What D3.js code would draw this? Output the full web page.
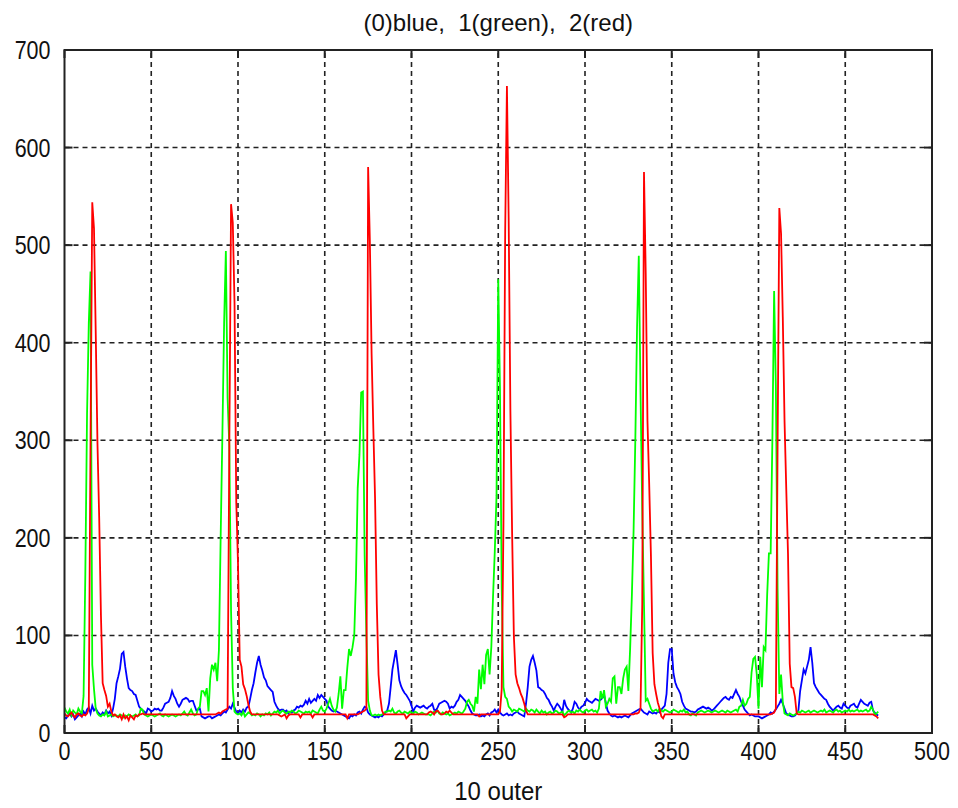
<!DOCTYPE html>
<html>
<head>
<meta charset="utf-8">
<script src="https://cdn.jsdelivr.net/npm/d3@7"></script>
<style>
  html, body { margin: 0; padding: 0; background: #fff; }
  #chart { width: 958px; height: 808px; }
</style>
</head>
<body>
<div id="chart"></div>
<script>
// series values, sample index 0..469
const blueVals = [
  16,15,18,20,17,19,14,16,18,20,
  17,22,19,24,26,20,28,23,25,22,
  20,18,21,19,23,20,22,18,25,35,
  51,58,66,81,83,68,56,46,44,43,
  40,39,33,27,25,23,22,20,25,24,
  22,23,25,24,25,23,23,26,30,31,
  32,36,43,38,35,30,27,30,34,35,
  36,35,32,33,33,28,23,24,25,17,
  16,15,16,17,17,15,16,17,18,19,
  18,20,22,21,24,27,25,30,26,22,
  20,23,21,24,22,26,27,35,44,51,
  62,72,79,70,64,57,54,48,46,44,
  42,32,28,25,23,24,24,22,23,20,
  22,21,23,24,27,26,28,27,29,33,
  30,35,31,33,35,33,39,36,39,37,
  35,33,27,25,23,22,23,22,21,20,
  19,18,17,16,15,18,17,19,18,21,
  22,20,24,27,26,21,19,18,17,16,
  17,16,18,17,19,21,23,30,47,65,
  75,85,70,54,48,44,41,39,36,33,
  28,22,26,28,27,26,27,28,26,25,
  27,28,30,24,23,26,30,31,32,33,
  32,30,25,27,26,28,32,34,39,37,
  35,33,30,27,23,20,19,18,18,19,
  17,18,17,19,20,18,21,22,24,21,
  24,21,19,18,19,20,18,19,18,20,
  21,22,20,19,18,17,30,47,68,75,
  79,72,64,47,46,44,43,40,36,34,
  30,27,23,27,30,28,25,22,34,28,
  25,23,21,25,32,30,26,24,27,28,
  31,35,33,32,31,33,35,34,33,34,
  36,39,31,23,20,18,17,18,17,16,
  17,16,17,18,17,16,18,20,21,22,
  23,24,25,23,21,20,19,22,21,20,
  21,20,22,21,24,26,28,40,72,86,
  86,61,52,47,44,40,32,28,25,24,
  23,22,22,21,22,24,25,26,27,26,
  25,26,25,23,24,26,28,30,32,34,
  36,37,35,34,37,36,40,44,40,37,
  32,28,24,22,20,18,19,18,17,17,
  17,16,15,16,17,18,19,21,20,22,
  24,27,30,34,30,25,20,19,18,17,
  17,18,20,23,43,54,65,61,68,75,
  88,72,51,47,44,41,39,37,35,34,
  30,27,25,23,25,27,28,26,25,30,
  28,26,25,28,29,30,27,26,30,34,
  32,30,29,28,31,32,23,21,19,18
];

const greenVals = [
  26,22,20,24,18,23,21,19,25,22,
  20,38,163,328,420,473,70,45,25,20,
  18,17,19,18,22,17,18,19,17,18,
  18,17,19,18,16,18,17,19,18,17,
  18,19,17,18,25,24,19,18,17,18,
  19,18,17,18,19,20,18,17,19,18,
  17,18,19,18,17,18,19,18,20,22,
  19,18,21,24,20,18,19,25,27,43,
  43,39,46,22,56,70,65,72,53,85,
  200,306,420,494,343,294,125,46,22,20,
  19,20,18,22,17,19,21,20,18,19,
  18,20,19,17,19,18,20,19,21,18,
  20,22,21,23,20,22,23,21,20,22,
  21,23,22,20,21,23,22,21,20,22,
  21,22,20,23,22,21,20,24,27,23,
  22,25,30,35,28,24,22,26,40,58,
  25,44,44,67,86,79,88,100,159,251,
  285,349,350,182,101,33,23,18,18,19,
  18,19,18,19,20,22,22,23,22,25,
  21,20,22,23,21,20,22,21,20,22,
  21,20,22,21,19,20,21,20,19,19,
  19,18,20,22,21,23,20,19,21,20,
  19,20,18,19,20,21,20,22,21,20,
  22,25,32,34,30,28,22,37,30,65,
  45,70,50,80,86,60,88,140,186,243,
  465,352,149,47,37,35,27,25,22,24,
  23,22,25,24,23,22,25,23,22,24,
  23,21,24,22,20,23,21,22,19,21,
  22,20,21,23,22,20,21,22,18,20,
  22,23,21,22,20,23,22,24,22,21,
  23,24,22,23,24,22,23,21,25,43,
  35,44,27,30,35,32,56,58,30,47,
  47,40,56,65,68,43,86,140,207,300,
  416,489,349,228,132,33,35,30,25,22,
  23,24,22,25,23,22,24,23,22,21,
  22,24,23,22,21,23,22,24,21,22,
  19,18,20,19,18,21,22,23,22,21,
  22,23,22,21,22,23,22,21,22,23,
  22,21,23,22,21,22,23,24,22,27,
  28,34,28,30,35,37,62,76,78,60,
  25,78,47,88,85,142,184,184,301,453,
  355,148,40,60,32,20,19,18,20,19,
  18,19,20,22,21,23,22,21,22,23,
  21,22,23,22,21,22,23,22,24,21,
  22,23,22,21,23,24,22,23,21,22,
  23,22,24,22,23,22,23,24,22,23,
  22,23,24,22,23,27,24,19,20,22
];

const redVals = [
  20,18,17,19,21,18,16,19,20,18,
  17,19,18,20,25,300,544,517,410,297,
  220,121,51,44,38,27,30,22,18,19,
  17,16,18,14,19,15,17,13,18,16,
  14,18,17,19,19,20,19,19,19,19,
  19,19,19,19,19,19,19,19,19,19,
  19,19,19,19,19,19,19,19,19,19,
  19,19,19,19,19,19,19,19,19,19,
  19,19,19,19,19,19,19,19,20,21,
  20,22,23,24,25,294,542,523,440,237,
  174,75,68,50,45,38,29,22,19,19,
  19,19,19,19,19,19,19,19,19,19,
  19,19,19,19,18,17,18,19,15,18,
  19,19,19,19,19,19,16,19,19,19,
  19,19,19,16,19,19,19,19,19,19,
  19,19,19,19,19,19,19,19,19,19,
  19,19,19,15,19,19,19,19,19,19,
  20,21,22,23,25,580,504,389,312,240,
  132,60,37,23,19,19,19,19,19,19,
  19,19,19,19,19,19,19,15,17,19,
  19,19,19,19,19,19,19,19,19,19,
  21,22,21,19,22,23,21,19,19,20,
  22,21,23,21,19,19,19,19,19,19,
  19,19,19,19,19,19,19,19,19,17,
  19,19,19,19,19,19,19,19,19,19,
  19,22,45,215,515,663,528,330,204,99,
  60,51,46,40,36,30,23,19,19,19,
  19,19,19,19,19,19,19,19,19,19,
  19,19,19,19,19,19,19,19,16,17,
  19,19,19,19,19,19,19,19,19,19,
  19,19,19,19,19,19,19,19,19,19,
  19,19,19,19,19,19,19,19,19,19,
  19,19,19,19,19,19,19,19,19,20,
  20,21,25,132,575,471,320,255,182,82,
  50,40,31,25,17,15,19,19,19,19,
  19,19,19,19,19,19,19,19,19,19,
  19,19,19,19,19,19,19,19,19,19,
  19,19,19,19,19,19,19,19,19,19,
  19,19,19,19,19,19,19,19,19,19,
  19,19,19,19,19,19,19,19,19,19,
  19,19,19,19,19,19,19,19,20,21,
  25,294,538,512,426,320,250,184,71,47,
  46,37,20,19,19,19,19,19,19,19,
  19,19,19,19,19,19,19,19,19,19,
  19,19,19,19,19,19,19,19,19,19,
  19,19,19,19,19,19,19,19,19,19,
  19,19,19,19,19,19,19,18,17,15
];

const seriesColors = ['#0000ff', '#00ff00', '#ff0000'];
const xTicks = [0, 50, 100, 150, 200, 250, 300, 350, 400, 450, 500];
const yTicks = [0, 100, 200, 300, 400, 500, 600, 700];
const titleText = '(0)blue,\u00a0\u00a01(green),\u00a0\u00a02(red)';
const xLabelText = '10 outer';

function renderChart() {
  const width = 958, height = 808;
  const left = 64.5, right = 932, top = 50, bottom = 733;
  const font = '"Liberation Sans", Arial, sans-serif';

  const svg = d3.select('#chart').append('svg')
    .attr('width', width)
    .attr('height', height);

  svg.append('rect').attr('width', width).attr('height', height).attr('fill', '#fff');

  const x = d3.scaleLinear().domain([0, 500]).range([left, right]);
  const y = d3.scaleLinear().domain([0, 700]).range([bottom, top]);

  // grid
  const grid = svg.append('g')
    .attr('stroke', '#222')
    .attr('stroke-width', 1.6)
    .attr('stroke-dasharray', '5,4');
  xTicks.slice(1, -1).forEach(t => {
    grid.append('line').attr('x1', x(t)).attr('x2', x(t)).attr('y1', bottom).attr('y2', top);
  });
  yTicks.slice(1, -1).forEach(t => {
    grid.append('line').attr('x1', left).attr('x2', right).attr('y1', y(t)).attr('y2', y(t));
  });

  // data lines
  svg.append('clipPath').attr('id', 'plot-clip')
    .append('rect').attr('x', left).attr('y', top).attr('width', right - left).attr('height', bottom - top);

  const line = d3.line().x((d, i) => x(i)).y(d => y(d));
  const plot = svg.append('g').attr('clip-path', 'url(#plot-clip)');
  [blueVals, greenVals, redVals].forEach((vals, si) => {
    plot.append('path')
      .attr('d', line(vals))
      .attr('fill', 'none')
      .attr('stroke', seriesColors[si])
      .attr('stroke-width', 1.8)
      .attr('stroke-linejoin', 'miter');
  });

  // axes box + inward ticks
  svg.append('rect')
    .attr('x', left).attr('y', top)
    .attr('width', right - left).attr('height', bottom - top)
    .attr('fill', 'none').attr('stroke', '#222').attr('stroke-width', 2);

  const tickLen = 8;
  const ticks = svg.append('g').attr('stroke', '#222').attr('stroke-width', 2);
  xTicks.forEach(t => {
    ticks.append('line').attr('x1', x(t)).attr('x2', x(t)).attr('y1', bottom).attr('y2', bottom - tickLen);
    ticks.append('line').attr('x1', x(t)).attr('x2', x(t)).attr('y1', top).attr('y2', top + tickLen);
  });
  yTicks.forEach(t => {
    ticks.append('line').attr('x1', left).attr('x2', left + tickLen).attr('y1', y(t)).attr('y2', y(t));
    ticks.append('line').attr('x1', right).attr('x2', right - tickLen).attr('y1', y(t)).attr('y2', y(t));
  });

  // tick labels: tall, narrow digits like the original screen font
  const squeeze = 0.86;
  xTicks.forEach(t => {
    svg.append('text')
      .attr('transform', `translate(${x(t)},${bottom + 27}) scale(${squeeze},1)`)
      .attr('text-anchor', 'middle')
      .attr('font-family', font).attr('font-size', '25px').attr('fill', '#111')
      .text(t);
  });
  yTicks.forEach(t => {
    svg.append('text')
      .attr('transform', `translate(${left - 14},${y(t) + 9}) scale(${squeeze},1)`)
      .attr('text-anchor', 'end')
      .attr('font-family', font).attr('font-size', '25px').attr('fill', '#111')
      .text(t);
  });

  svg.append('text')
    .attr('x', (left + right) / 2).attr('y', 31)
    .attr('text-anchor', 'middle')
    .attr('font-family', font).attr('font-size', '24px').attr('fill', '#111')
    .text(titleText);

  svg.append('text')
    .attr('transform', `translate(${(left + right) / 2},800) scale(0.96,1)`)
    .attr('text-anchor', 'middle')
    .attr('font-family', font).attr('font-size', '25px').attr('fill', '#111')
    .text(xLabelText);
}

renderChart();
</script>
</body>
</html>
